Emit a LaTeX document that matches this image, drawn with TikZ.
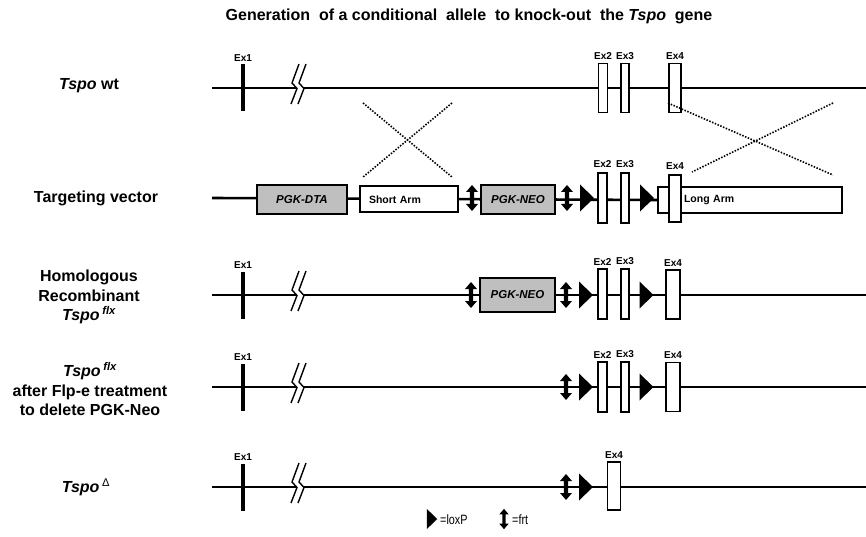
\documentclass[tikz,border=0pt]{standalone}
\usepackage{fontspec}
\setmainfont{Liberation Sans}
\usetikzlibrary{positioning,backgrounds}

\begin{document}
\begin{tikzpicture}[x=1pt, y=-1pt,
    gene/.style={line width=2.6pt},
    exon/.style={draw, fill=white, line width=1.6pt, inner sep=0pt, minimum width=#1, minimum height=49pt},
    exon/.default=9pt,
    exone/.style={fill=black, inner sep=0pt, minimum width=3.4pt, minimum height=47pt},
    exlbl/.style={font=\fontsize{10}{11}\selectfont\bfseries, inner sep=1pt},
    cassette/.style={draw, fill=gray!50, line width=2pt, inner sep=0pt, minimum height=29pt, font=\fontsize{11.5}{13}\selectfont\bfseries\itshape},
    arm/.style={draw, fill=white, line width=2pt, inner sep=0pt, minimum height=26pt, align=left, font=\fontsize{10.5}{12}\selectfont\bfseries},
    rowlbl/.style={font=\fontsize{16}{19.5}\selectfont\bfseries, align=center},
    legtxt/.style={font=\fontsize{13.5}{15}\selectfont\addfontfeature{FakeStretch=0.8}, anchor=west, inner sep=0pt},
    cross/.style={line width=1.6pt, dash pattern=on 1.5pt off 1.5pt},
    loxp/.pic={\fill (-7,-13.5) -- (7,0) -- (-7,13.5) -- cycle;},
    frt/.pic={\fill (0,-13) -- (6,-6) -- (2.2,-6) -- (2.2,6) -- (6,6) -- (0,13) -- (-6,6) -- (-2.2,6) -- (-2.2,-6) -- (-6,-6) -- cycle;},
    genebreak/.pic={
        \fill[white] (-1,-24) -- (-8,-5) -- (-3,0.5) -- (-9,16) -- (-2,16) -- (4,0.5) -- (-1,-5) -- (6,-24) -- cycle;
        \draw[line width=1.4pt] (-1,-24) -- (-8,-5) -- (-3,0.5) -- (-9,16);
        \draw[line width=1.4pt] (6,-24) -- (-1,-5) -- (4,0.5) -- (-2,16);},
]
\useasboundingbox (0,0) rectangle (866,537);

% --- Title ---
\node[font=\fontsize{16}{18}\selectfont\bfseries] (title) at (469,16)
    {Generation\ \ of a conditional\ \ allele\ \ to knock-out\ \ the \textit{Tspo}\ \ gene};

% --- Row labels ---
\node[rowlbl] (wt_lbl) at (89,86) {\textit{Tspo} wt};
\node[rowlbl] (tv_lbl) at (96,198) {Targeting vector};
\node[rowlbl] (hr_lbl) at (89,297) {Homologous\\Recombinant\\\textit{Tspo}\,\textsuperscript{\itshape flx}};
\node[rowlbl] (fl_lbl) at (90,389) {\textit{Tspo}\,\textsuperscript{\itshape flx}\\after Flp-e treatment\\to delete PGK-Neo};
\node[rowlbl] (dl_lbl) at (86,487) {\textit{Tspo}\,\textsuperscript{\mdseries Δ}};

% --- Tspo wt ---
\coordinate (wt_start) at (212,88);
\coordinate (wt_end) at (866,88);
\node[exone] (wt_ex1) at (243,88) {};
\node[exon] (wt_ex2) at (603,88) {};
\node[exon=8pt] (wt_ex3) at (625,88) {};
\node[exon=12pt] (wt_ex4) at (675,88) {};
\node[exlbl, above=2pt of wt_ex1] (wt_ex1_lbl) {Ex1};
\node[exlbl, above=2pt of wt_ex2] (wt_ex2_lbl) {Ex2};
\node[exlbl, above=2pt of wt_ex3] (wt_ex3_lbl) {Ex3};
\node[exlbl, above=2pt of wt_ex4] (wt_ex4_lbl) {Ex4};
\pic at (300,88) {genebreak};

% --- Targeting vector ---
\coordinate (tv_start) at (212,198);
\node[cassette, minimum width=90pt] (tv_dta) at (302,200) {PGK-DTA};
\node[arm, minimum width=98pt, text width=80pt] (tv_short) at (409,199.5) {Short Arm};
\node[cassette, minimum width=74pt] (tv_neo) at (518,199.5) {PGK-NEO};
\node[arm, minimum width=184pt, text width=132pt] (tv_long) at (750,200) {Long Arm};
\pic at (472,198) {frt};
\pic at (567,198) {frt};
\pic at (587,198) {loxp};
\pic at (647,198) {loxp};
\node[exon, minimum height=50pt] (tv_ex2) at (602.5,198) {};
\node[exon=8pt, minimum height=50pt] (tv_ex3) at (625,198) {};
\node[exon=12pt, minimum height=47pt] (tv_ex4) at (675,198.5) {};
\node[exlbl, above=3pt of tv_ex2] (tv_ex2_lbl) {Ex2};
\node[exlbl, above=3pt of tv_ex3] (tv_ex3_lbl) {Ex3};
\node[exlbl, above=3pt of tv_ex4] (tv_ex4_lbl) {Ex4};

% Crossing-over
\coordinate (xa1) at (363,103);
\coordinate (xa2) at (452,177);
\coordinate (xa3) at (452,103);
\coordinate (xa4) at (363,177);
\coordinate (xb1) at (668,103);
\coordinate (xb2) at (833,175);
\coordinate (xb3) at (833,103);
\coordinate (xb4) at (692,172);
\draw[cross] (xa1) -- (xa2);
\draw[cross] (xa3) -- (xa4);
\draw[cross] (xb1) -- (xb2);
\draw[cross] (xb3) -- (xb4);

% --- Homologous recombinant ---
\coordinate (hr_start) at (212,295);
\coordinate (hr_end) at (866,295);
\node[exone] (hr_ex1) at (243,295) {};
\node[cassette, minimum width=75pt, minimum height=34pt] (hr_neo) at (517.5,295) {PGK-NEO};
\node[exon, minimum height=50pt] (hr_ex2) at (602.5,294) {};
\node[exon=8pt, minimum height=50pt] (hr_ex3) at (625,294) {};
\node[exon=14pt] (hr_ex4) at (673,294.5) {};
\node[exlbl, above=2pt of hr_ex1] (hr_ex1_lbl) {Ex1};
\node[exlbl, above=2pt of hr_ex2] (hr_ex2_lbl) {Ex2};
\node[exlbl, above=2pt of hr_ex3] (hr_ex3_lbl) {Ex3};
\node[exlbl, above=2pt of hr_ex4] (hr_ex4_lbl) {Ex4};
\pic at (300,295) {genebreak};
\pic at (471,295) {frt};
\pic at (566,295) {frt};
\pic at (586,295) {loxp};
\pic at (646.5,295) {loxp};

% --- After Flp-e ---
\coordinate (fl_start) at (212,387);
\coordinate (fl_end) at (866,387);
\node[exone] (fl_ex1) at (243,387) {};
\node[exon, minimum height=50pt] (fl_ex2) at (602.5,387) {};
\node[exon=8pt, minimum height=50pt] (fl_ex3) at (625,387) {};
\node[exon=14pt] (fl_ex4) at (673,387) {};
\node[exlbl, above=2pt of fl_ex1] (fl_ex1_lbl) {Ex1};
\node[exlbl, above=2pt of fl_ex2] (fl_ex2_lbl) {Ex2};
\node[exlbl, above=2pt of fl_ex3] (fl_ex3_lbl) {Ex3};
\node[exlbl, above=2pt of fl_ex4] (fl_ex4_lbl) {Ex4};
\pic at (300,387) {genebreak};
\pic at (566,387) {frt};
\pic at (586,387) {loxp};
\pic at (646.5,387) {loxp};

% --- Deleted allele ---
\coordinate (dl_start) at (212,487);
\coordinate (dl_end) at (866,487);
\node[exone] (dl_ex1) at (243,487) {};
\node[exon=13pt, minimum height=48pt] (dl_ex4) at (614,486) {};
\node[exlbl, above=2pt of dl_ex1] (dl_ex1_lbl) {Ex1};
\node[exlbl, above=2pt of dl_ex4] (dl_ex4_lbl) {Ex4};
\pic at (300,487) {genebreak};
\pic at (566,487) {frt};
\pic at (586,487) {loxp};

% --- Gene lines ---
\begin{scope}[on background layer]
\draw[gene] (wt_start) -- (wt_end);
\draw[gene] (tv_start) -- (tv_long.west);
\draw[gene] (hr_start) -- (hr_end);
\draw[gene] (fl_start) -- (fl_end);
\draw[gene] (dl_start) -- (dl_end);
\end{scope}

% --- Legend ---
\pic[scale=0.75] at (432,519) {loxp};
\node[legtxt] (lox_txt) at (440,520) {=loxP};
\pic[scale=0.78] at (504,519) {frt};
\node[legtxt] (frt_txt) at (512,520) {=frt};

\end{tikzpicture}
\end{document}
